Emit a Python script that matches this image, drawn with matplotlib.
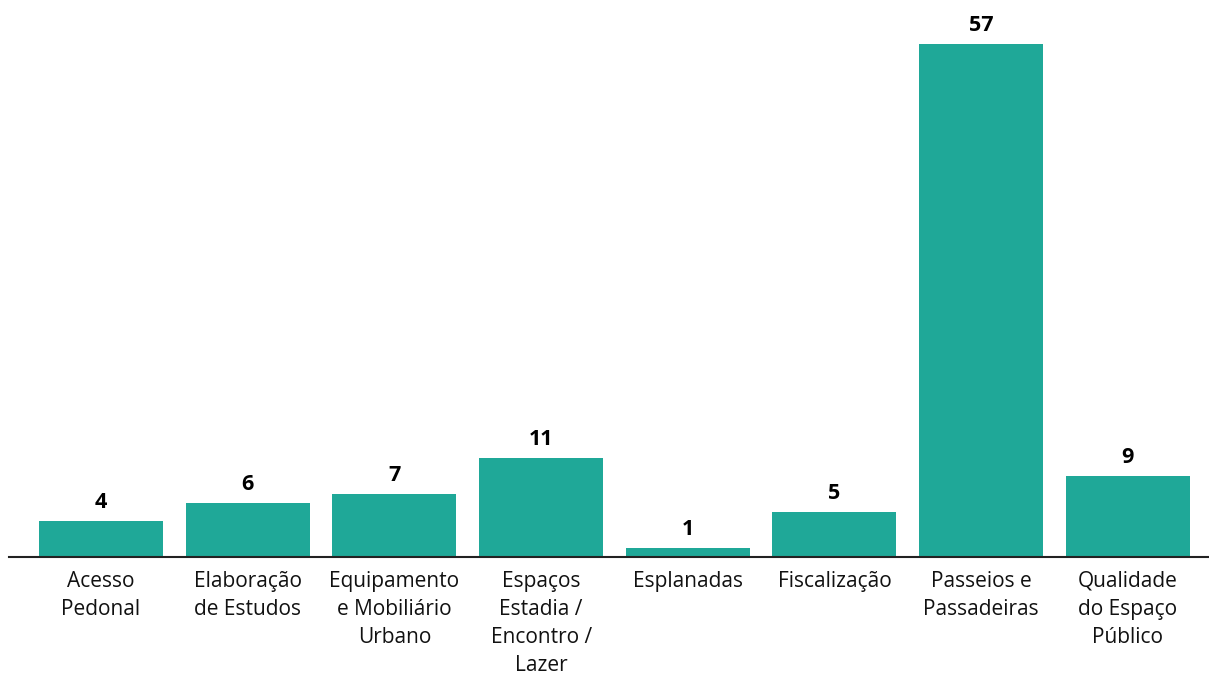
import matplotlib
matplotlib.use("Agg")
import matplotlib.pyplot as plt

categories = ["Acesso\nPedonal", "Elaboração\nde Estudos", "Equipamento\ne Mobiliário\nUrbano",
              "Espaços\nEstadia /\nEncontro /\nLazer", "Esplanadas", "Fiscalização",
              "Passeios e\nPassadeiras", "Qualidade\ndo Espaço\nPúblico"]
values = [4, 6, 7, 11, 1, 5, 57, 9]

plt.rcParams['font.family'] = ['Open Sans', 'DejaVu Sans']

W, H = 1209, 675
fig = plt.figure(figsize=(W/100, H/100), dpi=100)
ax = fig.add_axes([9/W, (H-557)/H, 1200/W, 557/H])

x = list(range(len(values)))
bars = ax.bar(x, values, width=0.845, color="#1FA898")
for xi, v in zip(x, values):
    ax.text(xi, v + 0.85, str(v), ha="center", va="bottom", fontsize=15.5, fontweight="bold", color="black")

ax.set_xlim(-0.627, 7.553)
ax.set_ylim(0, 57*557/513)
ax.set_xticks(x)
ax.set_xticklabels(categories, fontsize=15, color="#111111", linespacing=1.45, ha="center", multialignment="center")
ax.tick_params(axis="x", length=0, pad=10)
ax.set_yticks([])
for s in ["top", "right", "left"]:
    ax.spines[s].set_visible(False)
ax.spines["bottom"].set_color("#222222")
ax.spines["bottom"].set_linewidth(1.5)

fig.savefig("out.png", dpi=100)
